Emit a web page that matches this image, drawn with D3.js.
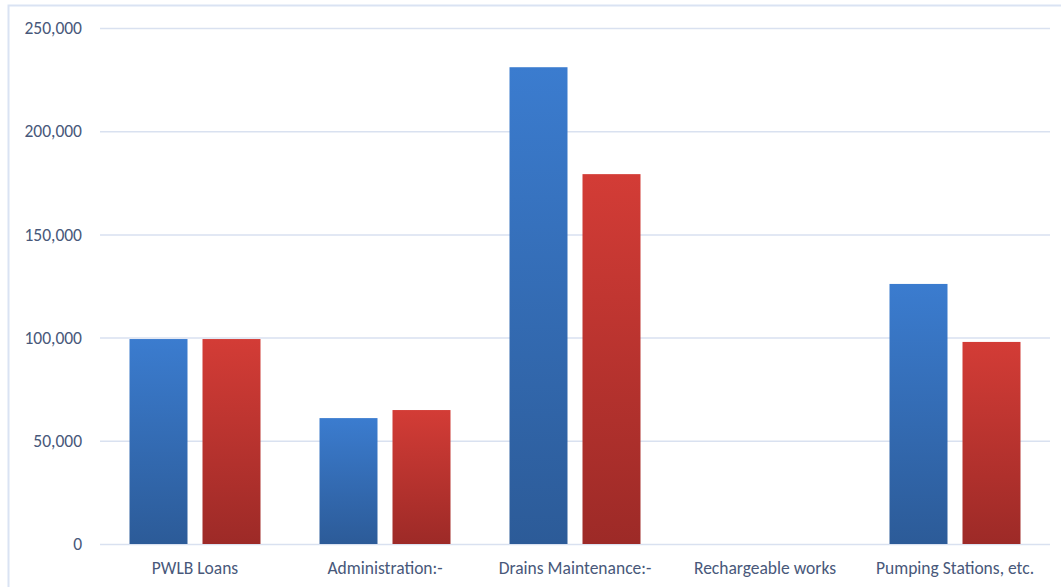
<!DOCTYPE html>
<html>
<head>
<meta charset="utf-8">
<script src="https://cdn.jsdelivr.net/npm/d3@7"></script>
<style>
  body { margin: 0; background: #fff; }
  text { font-family: Carlito, Lato, "Open Sans", sans-serif; fill: #48587a; }
</style>
</head>
<body>
<div id="chart"></div>
<script>
const categories = ["PWLB Loans", "Administration:-", "Drains Maintenance:-", "Rechargeable works", "Pumping Stations, etc."];
const seriesA = [99300, 61000, 231000, 0, 126000];
const seriesB = [99300, 64900, 179200, 0, 97900];
const yTicks = [0, 50000, 100000, 150000, 200000, 250000];

const W = 1061, H = 587;
const margin = {top: 28, right: 11, bottom: 43, left: 100},
      width = W - margin.left - margin.right,
      height = H - margin.top - margin.bottom;

const svg = d3.select("#chart")
              .append("svg")
              .attr("width", W)
              .attr("height", H);

// outer frame
svg.append("rect")
   .attr("x", 8.5).attr("y", 5.5)
   .attr("width", W + 10).attr("height", H + 10)
   .attr("fill", "none")
   .attr("stroke", "#dae3f3")
   .attr("stroke-width", 2);

const defs = svg.append("defs");
function grad(id, top, bottom) {
  const g = defs.append("linearGradient")
                .attr("id", id)
                .attr("x1", 0).attr("y1", 0).attr("x2", 0).attr("y2", 1);
  g.append("stop").attr("offset", "0%").attr("stop-color", top);
  g.append("stop").attr("offset", "100%").attr("stop-color", bottom);
}
grad("gBlue", "#3b7ccf", "#2c5b98");
grad("gRed", "#d33c36", "#9d2a27");

const g = svg.append("g")
             .attr("transform", `translate(${margin.left}, ${margin.top})`);

const x = d3.scaleBand()
            .domain(categories)
            .range([0, width]);

const y = d3.scaleLinear()
            .domain([0, 250000])
            .range([height, 0]);

// gridlines
g.append("g")
 .selectAll("line")
 .data(yTicks)
 .join("line")
 .attr("x1", 0).attr("x2", width)
 .attr("y1", d => y(d) + 0.5).attr("y2", d => y(d) + 0.5)
 .attr("stroke", "#d9e1f0")
 .attr("stroke-width", 1.5);

// y labels
g.append("g")
 .selectAll("text")
 .data(yTicks)
 .join("text")
 .attr("x", -18)
 .attr("y", d => y(d))
 .attr("dy", "0.35em")
 .attr("text-anchor", "end")
 .style("font-size", "17.5px")
 .text(d => d3.format(",")(d));

// bars
const barW = 58, gap = 15;
const series = [{vals: seriesA, fill: "url(#gBlue)", off: -gap / 2 - barW},
                {vals: seriesB, fill: "url(#gRed)", off: gap / 2}];

series.forEach(s => {
  g.append("g")
   .selectAll("rect")
   .data(categories.map((c, i) => ({c: c, v: s.vals[i]})))
   .join("rect")
   .attr("x", d => x(d.c) + x.bandwidth() / 2 + s.off)
   .attr("y", d => y(d.v))
   .attr("width", barW)
   .attr("height", d => height - y(d.v))
   .attr("fill", s.fill);
});

// category labels
g.append("g")
 .selectAll("text")
 .data(categories)
 .join("text")
 .attr("x", d => x(d) + x.bandwidth() / 2)
 .attr("y", height + 24)
 .attr("dy", "0.35em")
 .attr("text-anchor", "middle")
 .style("font-size", "17.5px")
 .text(d => d);
</script>
</body>
</html>
